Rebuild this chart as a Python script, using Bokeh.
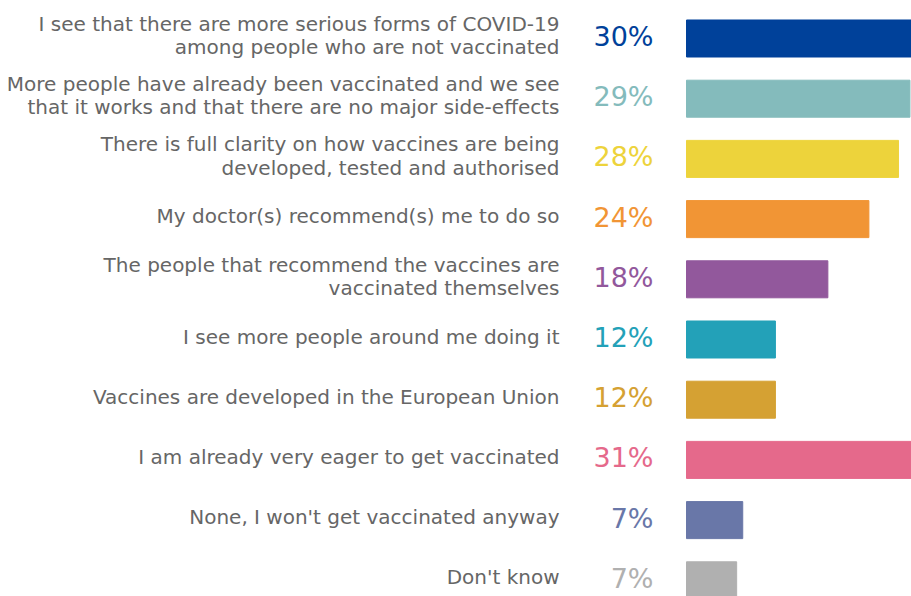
from bokeh.plotting import figure
from bokeh.models import ColumnDataSource, Range1d
from bokeh.embed import file_html
from bokeh.resources import INLINE
from bokeh.core.properties import value

categories = [
    "I see that there are more serious forms of COVID-19\namong people who are not vaccinated",
    "More people have already been vaccinated and we see\nthat it works and that there are no major side-effects",
    "There is full clarity on how vaccines are being\ndeveloped, tested and authorised",
    "My doctor(s) recommend(s) me to do so",
    "The people that recommend the vaccines are\nvaccinated themselves",
    "I see more people around me doing it",
    "Vaccines are developed in the European Union",
    "I am already very eager to get vaccinated",
    "None, I won't get vaccinated anyway",
    "Don't know",
]
# bar lengths (%)
bar_values = [30.2, 29.4, 27.9, 24.0, 18.6, 11.7, 11.7, 31.2, 7.4, 6.6]
# printed labels
value_labels = ["30%", "29%", "28%", "24%", "18%", "12%", "12%", "31%", "7%", "7%"]
colors = ["#00419A", "#84BBBC", "#EDD33B", "#F19535", "#92589C",
          "#23A1B8", "#D5A133", "#E5698B", "#6977A8", "#B0B0B0"]

W, H = 911, 596
scale = 7.6      # px per percent
zero_px = 686    # x pixel of 0%
row_px = 60.2
first_px = 38

idx = list(range(len(categories)))
src = ColumnDataSource(dict(y=idx, v=bar_values, lab=value_labels, cat=categories, c=colors))

p = figure(width=W, height=H, output_backend="svg", toolbar_location=None,
           x_range=Range1d(-zero_px / scale, (W - zero_px) / scale),
           y_range=Range1d((H - first_px) / row_px, -first_px / row_px),
           min_border=0, outline_line_color=None)
p.axis.visible = False
p.grid.visible = False
p.background_fill_color = "white"

p.hbar(y="y", left=0, right="v", height=0.615, color="c", source=src)

p.text(x=0, y="y", text="lab", source=src, text_color="c", x_offset=-33, y_offset=-2,
       text_align="right", text_baseline="middle", text_font=value("DejaVu Sans"),
       text_font_size="27px")

p.text(x=0, y="y", text="cat", source=src, text_color="#666666", x_offset=-127, y_offset=-3,
       text_align="right", text_baseline="middle", text_font=value("DejaVu Sans"),
       text_font_size="20px", text_line_height=0.98)

open("out.html", "w").write(file_html(p, INLINE))
